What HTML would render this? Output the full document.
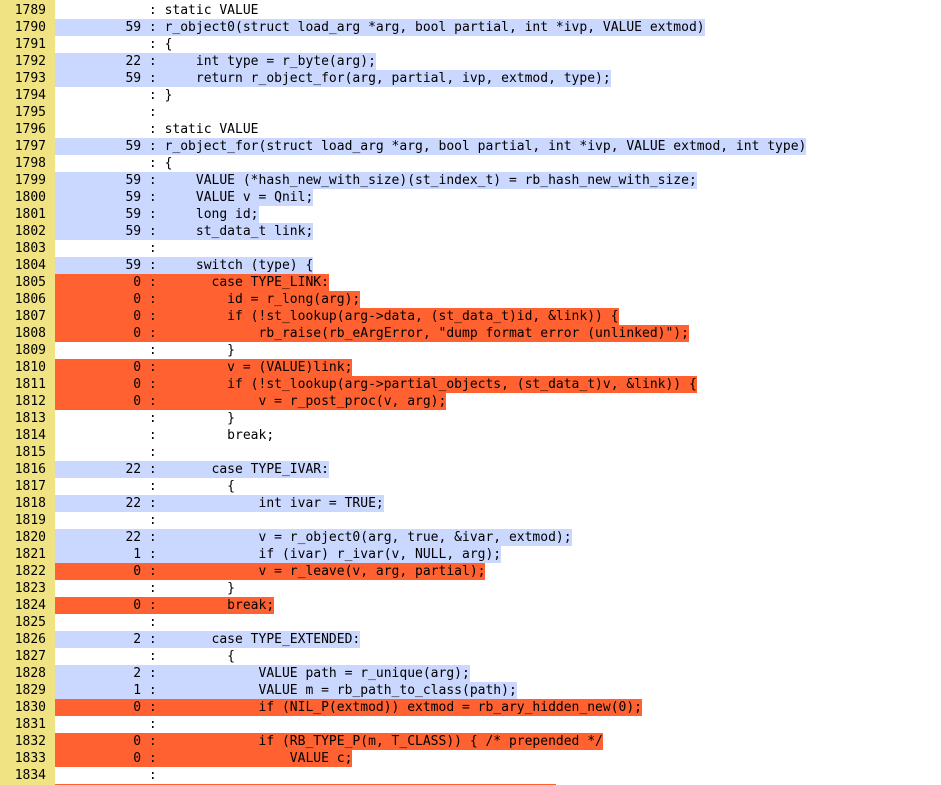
<!DOCTYPE html>
<html><head><meta charset="utf-8"><style>
html,body{margin:0;padding:0;background:#fff;width:941px;height:785px;overflow:hidden}
body{position:relative;font-family:"DejaVu Sans Mono","Liberation Mono",monospace;font-size:13px}
#ln{position:absolute;left:0;top:0;width:55px;height:785px;background:#EFE383}
#code{position:absolute;left:0;top:1.5px}
.r{height:17px;line-height:17px;white-space:pre;position:relative}
.n{position:absolute;left:0;width:46px;text-align:right;color:#000}
.s{position:absolute;left:55px;top:0;height:17px;color:#000}
.c{background:#CAD7FE}.u{background:#FF6230}
</style></head><body><div id="ln"></div><div id="code">
<div class="r"><span class="n">1789</span><span class="s">            : static VALUE</span></div>
<div class="r"><span class="n">1790</span><span class="s c">         59 : r_object0(struct load_arg *arg, bool partial, int *ivp, VALUE extmod)</span></div>
<div class="r"><span class="n">1791</span><span class="s">            : {</span></div>
<div class="r"><span class="n">1792</span><span class="s c">         22 :     int type = r_byte(arg);</span></div>
<div class="r"><span class="n">1793</span><span class="s c">         59 :     return r_object_for(arg, partial, ivp, extmod, type);</span></div>
<div class="r"><span class="n">1794</span><span class="s">            : }</span></div>
<div class="r"><span class="n">1795</span><span class="s">            : </span></div>
<div class="r"><span class="n">1796</span><span class="s">            : static VALUE</span></div>
<div class="r"><span class="n">1797</span><span class="s c">         59 : r_object_for(struct load_arg *arg, bool partial, int *ivp, VALUE extmod, int type)</span></div>
<div class="r"><span class="n">1798</span><span class="s">            : {</span></div>
<div class="r"><span class="n">1799</span><span class="s c">         59 :     VALUE (*hash_new_with_size)(st_index_t) = rb_hash_new_with_size;</span></div>
<div class="r"><span class="n">1800</span><span class="s c">         59 :     VALUE v = Qnil;</span></div>
<div class="r"><span class="n">1801</span><span class="s c">         59 :     long id;</span></div>
<div class="r"><span class="n">1802</span><span class="s c">         59 :     st_data_t link;</span></div>
<div class="r"><span class="n">1803</span><span class="s">            : </span></div>
<div class="r"><span class="n">1804</span><span class="s c">         59 :     switch (type) {</span></div>
<div class="r"><span class="n">1805</span><span class="s u">          0 :       case TYPE_LINK:</span></div>
<div class="r"><span class="n">1806</span><span class="s u">          0 :         id = r_long(arg);</span></div>
<div class="r"><span class="n">1807</span><span class="s u">          0 :         if (!st_lookup(arg-&gt;data, (st_data_t)id, &amp;link)) {</span></div>
<div class="r"><span class="n">1808</span><span class="s u">          0 :             rb_raise(rb_eArgError, "dump format error (unlinked)");</span></div>
<div class="r"><span class="n">1809</span><span class="s">            :         }</span></div>
<div class="r"><span class="n">1810</span><span class="s u">          0 :         v = (VALUE)link;</span></div>
<div class="r"><span class="n">1811</span><span class="s u">          0 :         if (!st_lookup(arg-&gt;partial_objects, (st_data_t)v, &amp;link)) {</span></div>
<div class="r"><span class="n">1812</span><span class="s u">          0 :             v = r_post_proc(v, arg);</span></div>
<div class="r"><span class="n">1813</span><span class="s">            :         }</span></div>
<div class="r"><span class="n">1814</span><span class="s">            :         break;</span></div>
<div class="r"><span class="n">1815</span><span class="s">            : </span></div>
<div class="r"><span class="n">1816</span><span class="s c">         22 :       case TYPE_IVAR:</span></div>
<div class="r"><span class="n">1817</span><span class="s">            :         {</span></div>
<div class="r"><span class="n">1818</span><span class="s c">         22 :             int ivar = TRUE;</span></div>
<div class="r"><span class="n">1819</span><span class="s">            : </span></div>
<div class="r"><span class="n">1820</span><span class="s c">         22 :             v = r_object0(arg, true, &amp;ivar, extmod);</span></div>
<div class="r"><span class="n">1821</span><span class="s c">          1 :             if (ivar) r_ivar(v, NULL, arg);</span></div>
<div class="r"><span class="n">1822</span><span class="s u">          0 :             v = r_leave(v, arg, partial);</span></div>
<div class="r"><span class="n">1823</span><span class="s">            :         }</span></div>
<div class="r"><span class="n">1824</span><span class="s u">          0 :         break;</span></div>
<div class="r"><span class="n">1825</span><span class="s">            : </span></div>
<div class="r"><span class="n">1826</span><span class="s c">          2 :       case TYPE_EXTENDED:</span></div>
<div class="r"><span class="n">1827</span><span class="s">            :         {</span></div>
<div class="r"><span class="n">1828</span><span class="s c">          2 :             VALUE path = r_unique(arg);</span></div>
<div class="r"><span class="n">1829</span><span class="s c">          1 :             VALUE m = rb_path_to_class(path);</span></div>
<div class="r"><span class="n">1830</span><span class="s u">          0 :             if (NIL_P(extmod)) extmod = rb_ary_hidden_new(0);</span></div>
<div class="r"><span class="n">1831</span><span class="s">            : </span></div>
<div class="r"><span class="n">1832</span><span class="s u">          0 :             if (RB_TYPE_P(m, T_CLASS)) { /* prepended */</span></div>
<div class="r"><span class="n">1833</span><span class="s u">          0 :                 VALUE c;</span></div>
<div class="r"><span class="n">1834</span><span class="s">            : </span></div>
<div class="r"><span class="n">1835</span><span class="s u">          0 :                 c = m = rb_singleton_class_clone(m</span></div>
</div></body></html>
